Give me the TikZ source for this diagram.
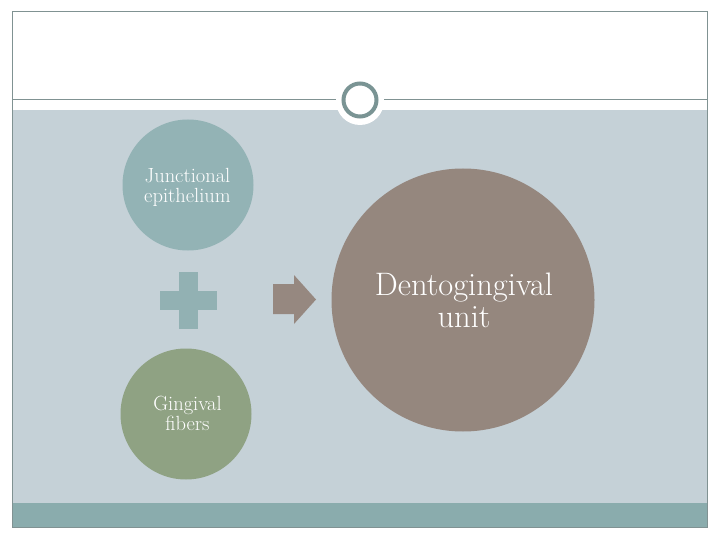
\documentclass[tikz,border=0pt]{standalone}
\definecolor{bgpanel}{RGB}{197,209,215}
\definecolor{band}{RGB}{138,172,173}
\definecolor{frameline}{RGB}{128,146,146}
\definecolor{ringc}{RGB}{122,148,148}
\definecolor{cblue}{RGB}{147,179,181}
\definecolor{cgreen}{RGB}{143,162,131}
\definecolor{cbrown}{RGB}{149,135,126}
\definecolor{plusc}{RGB}{146,177,179}
\definecolor{arrowc}{RGB}{150,136,128}
\tikzset{
  bubble/.style={circle, inner sep=0pt, text=white, align=center},
  smalltxt/.style={font=\fontsize{20.5}{20}\selectfont},
  bigtxt/.style={font=\fontsize{32.5}{32}\selectfont},
}
\begin{document}
\begin{tikzpicture}[x=1pt,y=-1pt]
\useasboundingbox (0,0) rectangle (720,540);
\fill[white] (0,0) rectangle (720,540);
% panels
\fill[bgpanel] (12,110) rectangle (707,503);
\fill[band] (12,503) rectangle (707,527);
\draw[frameline, line width=1pt] (12,12) rectangle (707,527);
\draw[frameline, line width=1pt] (12,100) -- (707,100);
% top ornament
\fill[white] (360,101) circle (24);
\node[circle, draw=ringc, line width=4pt, minimum size=33pt, inner sep=0pt] (ring) at (360,100) {};
% circles
\node[bubble, fill=cblue, minimum size=131pt, smalltxt] (je) at (188,185) {};
\node[text=white, align=center, smalltxt] (jet) at (187.5,187) {Junctional\\epithelium};
\node[bubble, fill=cgreen, minimum size=131pt] (gf) at (186,414) {};
\node[text=white, align=center, smalltxt] (gft) at (187.5,413) {Gingival\\fibers};
\node[bubble, fill=cbrown, minimum size=263pt] (du) at (463,300) {};
\node[text=white, align=center, bigtxt] (dut) at (464,300) {Dentogingival\\unit};
% plus sign
\fill[plusc] (179,272) rectangle (198,329);
\fill[plusc] (160,291) rectangle (217,310);
% arrow
\fill[arrowc] (273,284) -- (294,284) -- (294,275) -- (316,299.5) -- (294,324) -- (294,314) -- (273,314) -- cycle;
\end{tikzpicture}
\end{document}
